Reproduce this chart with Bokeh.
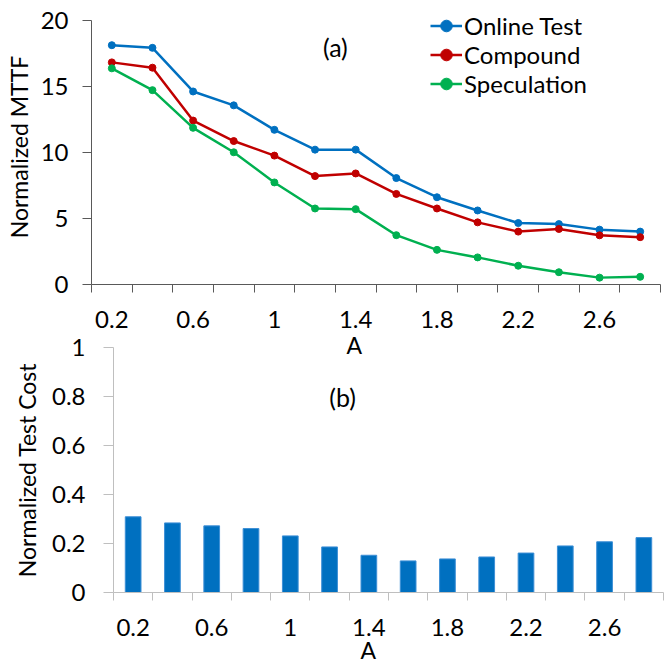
from bokeh.plotting import figure
from bokeh.models import FixedTicker, NumeralTickFormatter, Label, Range1d, Title
from bokeh.embed import file_html
from bokeh.resources import INLINE

# ---- data ----
A = [0.2, 0.4, 0.6, 0.8, 1.0, 1.2, 1.4, 1.6, 1.8, 2.0, 2.2, 2.4, 2.6, 2.8]
online_test = [18.1, 17.9, 14.6, 13.55, 11.7, 10.2, 10.2, 8.05, 6.6, 5.6, 4.65, 4.57, 4.15, 4.0]
compound = [16.8, 16.4, 12.4, 10.85, 9.75, 8.2, 8.4, 6.85, 5.75, 4.7, 4.0, 4.2, 3.72, 3.58]
speculation = [16.35, 14.7, 11.85, 10.0, 7.72, 5.75, 5.7, 3.73, 2.62, 2.05, 1.42, 0.93, 0.52, 0.58]
test_cost = [0.309, 0.284, 0.272, 0.261, 0.231, 0.186, 0.152, 0.129, 0.137, 0.145, 0.161, 0.19, 0.207, 0.224]
x_tick_labels = [0.2, 0.6, 1.0, 1.4, 1.8, 2.2, 2.6]
x_boundaries = [0.1, 0.3, 0.5, 0.7, 0.9, 1.1, 1.3, 1.5, 1.7, 1.9, 2.1, 2.3, 2.5, 2.7, 2.9]
y_ticks_a = [0, 5, 10, 15, 20]
y_ticks_b = [0, 0.2, 0.4, 0.6, 0.8, 1.0]

FONT = "Lato"
BLUE = "#0070C0"
RED = "#C00000"
GREEN = "#00B050"


def style_axes(p, axis_color, y_ticks):
    p.xaxis.ticker = FixedTicker(ticks=x_tick_labels, minor_ticks=x_boundaries)
    p.xaxis.formatter = NumeralTickFormatter(format="0.[0]")
    p.xaxis.major_tick_out = 0
    p.xaxis.major_tick_in = 0
    p.xaxis.minor_tick_out = 8
    p.xaxis.minor_tick_in = 0
    p.xaxis.minor_tick_line_color = axis_color
    p.yaxis.ticker = FixedTicker(ticks=y_ticks)
    p.yaxis.formatter = NumeralTickFormatter(format="0.[0]")
    p.yaxis.major_tick_in = 0
    p.yaxis.minor_tick_line_color = None
    for ax in (p.xaxis, p.yaxis):
        ax.axis_line_color = axis_color
        ax.major_tick_line_color = axis_color
        ax.major_label_text_font = FONT
        ax.major_label_text_font_size = "24px"
        ax.major_label_text_color = "#000000"
        ax.axis_label_text_font = FONT
        ax.axis_label_text_font_size = "23px"
        ax.axis_label_text_font_style = "normal"
        ax.axis_label_text_color = "#000000"
    p.xgrid.visible = False
    p.ygrid.visible = False
    p.outline_line_color = None


def add_a_title(p, offset, standoff):
    # x-axis title "A", placed under the 1.4 tick as in the reference
    p.add_layout(Title(text="A", align="left", offset=offset, standoff=standoff,
                       text_font=FONT, text_font_size="23px", text_font_style="normal",
                       text_color="#000000"), "below")


# ---- top panel ----
p1 = figure(width=665, height=364, output_backend="svg", toolbar_location=None,
            x_range=Range1d(0.1, 2.9), y_range=Range1d(0, 20.8),
            min_border_left=91, min_border_right=5, min_border_top=9, min_border_bottom=80)
style_axes(p1, "#595959", y_ticks_a)
p1.yaxis.bounds = (0, 20)
p1.yaxis.major_tick_out = 9
p1.yaxis.major_label_standoff = 14
p1.yaxis.axis_label = "Normalized MTTF"
p1.yaxis.axis_label_standoff = 5
p1.xaxis.major_label_standoff = 18
add_a_title(p1, 255, -3)

for vals, col, name in [(online_test, BLUE, "Online Test"),
                        (compound, RED, "Compound"),
                        (speculation, GREEN, "Speculation")]:
    p1.line(A, vals, line_color=col, line_width=2.5, legend_label=name)
    p1.scatter(A, vals, marker="circle", size=7, fill_color=col, line_color=col, legend_label=name)

lg = p1.legend[0]
lg.location = (339, 186)
lg.border_line_color = None
lg.background_fill_alpha = 0
lg.padding = 0
lg.margin = 0
lg.spacing = 0
lg.glyph_width = 32
lg.glyph_height = 29
lg.label_height = 29
lg.label_standoff = 2
lg.label_text_font = FONT
lg.label_text_font_size = "24px"
lg.label_text_color = "#000000"

p1.add_layout(Label(x=1.30, y=18.0, text="(a)", text_align="center", text_baseline="middle",
                    text_font=FONT, text_font_size="25px", text_color="#000000"))

# ---- bottom panel ----
p2 = figure(width=665, height=330, output_backend="svg", toolbar_location=None,
            x_range=Range1d(0.1, 2.9), y_range=Range1d(0, 1),
            min_border_left=113, min_border_right=2, min_border_top=17, min_border_bottom=68)
p2.margin = (-34, 0, 0, 0)
p2.background_fill_alpha = 0
p2.border_fill_alpha = 0
style_axes(p2, "#BFBFBF", y_ticks_b)
p2.yaxis.major_tick_out = 10
p2.yaxis.major_label_standoff = 18
p2.yaxis.axis_label = "Normalized Test Cost"
p2.yaxis.axis_label_standoff = 8
p2.xaxis.major_label_standoff = 18
add_a_title(p2, 247, -10)

p2.vbar(x=A, top=test_cost, width=0.08, bottom=0, fill_color=BLUE, line_color="#3D8FD6", line_width=1)

p2.add_layout(Label(x=1.266, y=0.80, text="(b)", text_align="center", text_baseline="middle",
                    text_font=FONT, text_font_size="25px", text_color="#000000"))

open("out.html", "w").write(file_html([p1, p2], INLINE))
